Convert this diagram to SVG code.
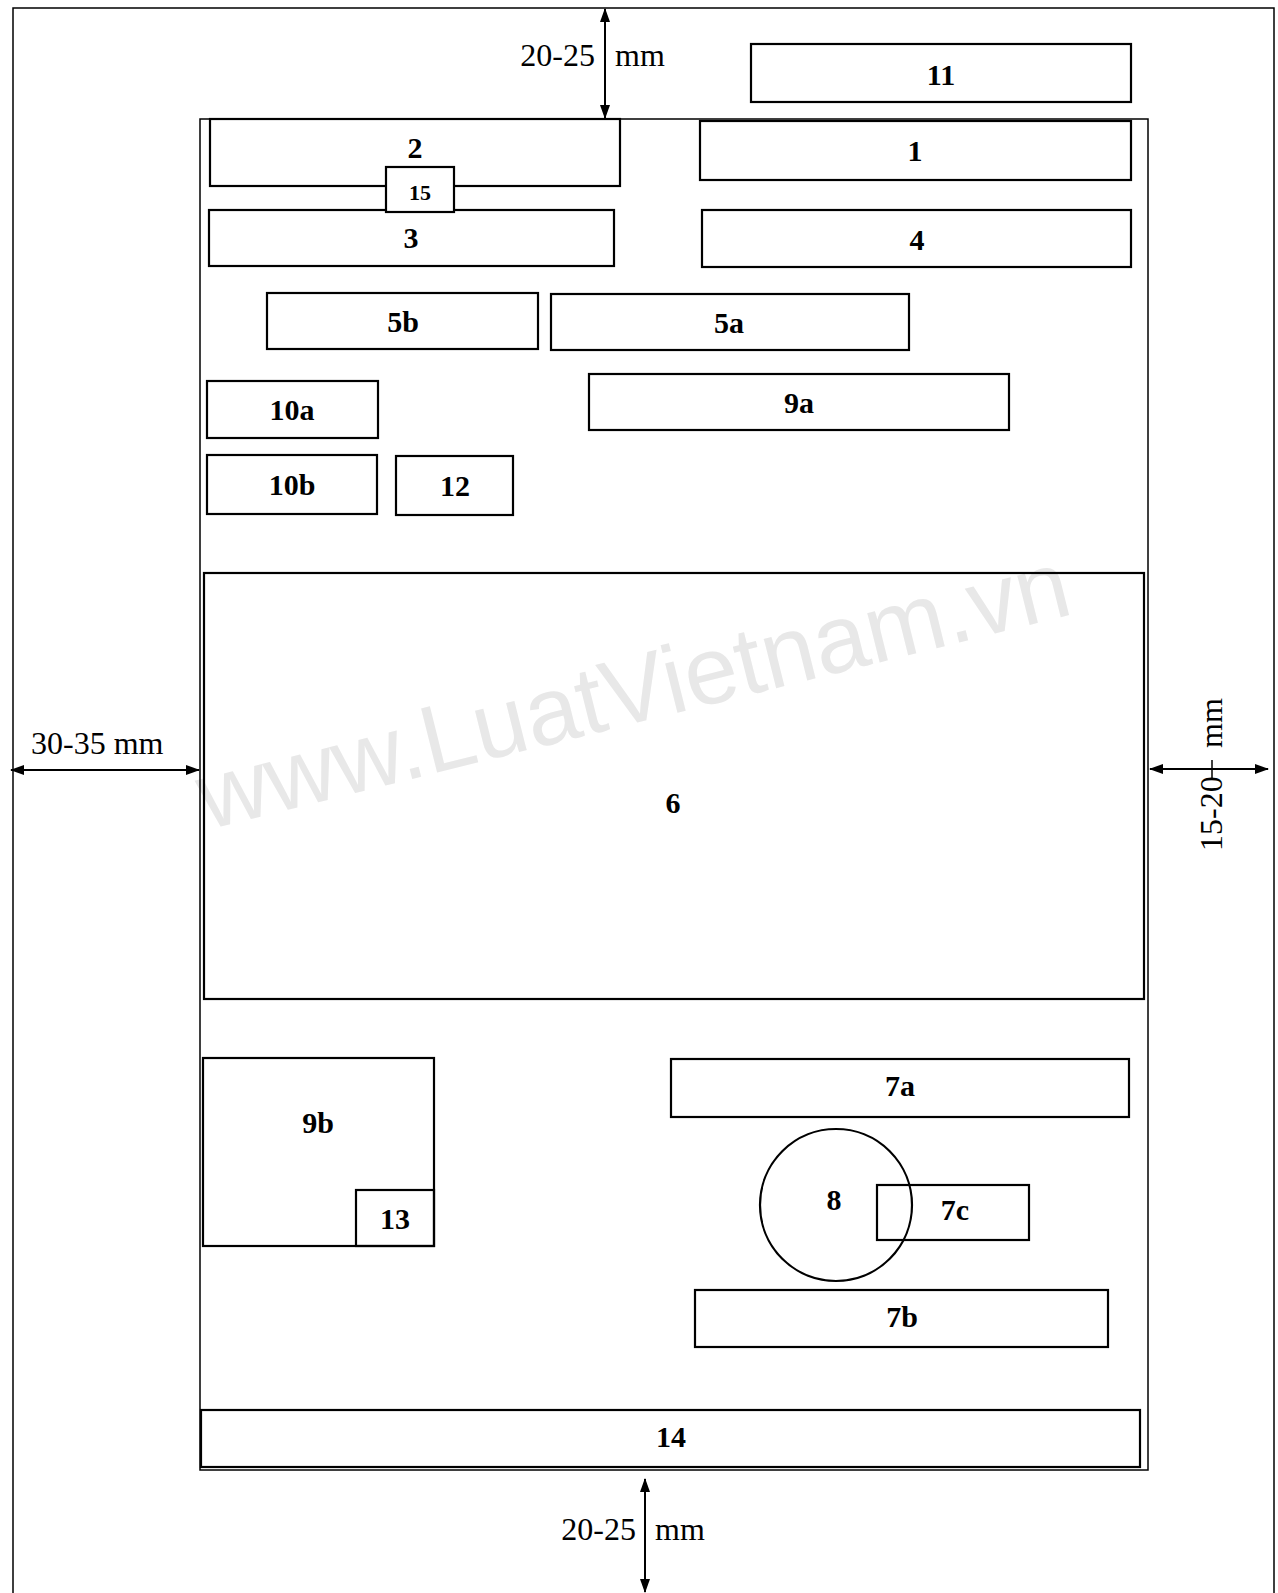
<svg xmlns="http://www.w3.org/2000/svg" width="1278" height="1593" viewBox="0 0 1278 1593">
<defs>
<style>
.box{fill:none;stroke:#000;stroke-width:2.2}
.frame{fill:none;stroke:#000;stroke-width:1.5}
.lbl{font-family:"Liberation Serif","Times New Roman",serif;font-weight:bold;font-size:30px;fill:#000;text-anchor:middle}
.dim{font-family:"Liberation Serif","Times New Roman",serif;font-size:32px;fill:#000}
.arr{stroke:#000;stroke-width:2;fill:none;marker-start:url(#ah);marker-end:url(#ah)}
.wm{font-family:"Liberation Sans",Arial,sans-serif;font-size:96px;fill:#e8e8e8}
</style>
<marker id="ah" viewBox="0 0 14 10" refX="13" refY="5" markerWidth="14" markerHeight="10" orient="auto-start-reverse" markerUnits="userSpaceOnUse">
<path d="M0,0 L14,5 L0,10 z" fill="#000"/>
</marker>
</defs>
<rect width="1278" height="1593" fill="#fff"/>
<text class="wm" transform="translate(207,830) rotate(-14)">www.LuatVietnam.vn</text>
<g id="page">
<path class="frame" d="M13,1593 L13,8 L1274,8 L1274,1593" stroke-width="2.5"/>
</g>
<g id="frame">
<rect class="frame" x="200" y="119" width="948" height="1351"/>
</g>
<g id="n11"><rect class="box" x="751" y="44" width="380" height="58"/><text class="lbl" x="941" y="85">11</text></g>
<g id="n2"><rect class="box" x="210" y="119" width="410" height="67"/><text class="lbl" x="415" y="158">2</text></g>
<g id="n3"><rect class="box" x="209" y="210" width="405" height="56"/><text class="lbl" x="411" y="248">3</text></g>
<g id="n15"><rect class="box" x="386" y="167" width="68" height="45" style="fill:#fff"/><text class="lbl" x="420" y="200" style="font-size:22px">15</text></g>
<g id="n1"><rect class="box" x="700" y="121" width="431" height="59"/><text class="lbl" x="915" y="161">1</text></g>
<g id="n4"><rect class="box" x="702" y="210" width="429" height="57"/><text class="lbl" x="917" y="250">4</text></g>
<g id="n5b"><rect class="box" x="267" y="293" width="271" height="56"/><text class="lbl" x="403" y="332">5b</text></g>
<g id="n5a"><rect class="box" x="551" y="294" width="358" height="56"/><text class="lbl" x="729" y="333">5a</text></g>
<g id="n10a"><rect class="box" x="207" y="381" width="171" height="57"/><text class="lbl" x="292" y="420">10a</text></g>
<g id="n9a"><rect class="box" x="589" y="374" width="420" height="56"/><text class="lbl" x="799" y="413">9a</text></g>
<g id="n10b"><rect class="box" x="207" y="455" width="170" height="59"/><text class="lbl" x="292" y="495">10b</text></g>
<g id="n12"><rect class="box" x="396" y="456" width="117" height="59"/><text class="lbl" x="455" y="496">12</text></g>
<g id="n6"><rect class="box" x="204" y="573" width="940" height="426"/><text class="lbl" x="673" y="813">6</text></g>
<g id="n9b"><rect class="box" x="203" y="1058" width="231" height="188"/><text class="lbl" x="318" y="1133">9b</text></g>
<g id="n13"><rect class="box" x="356" y="1190" width="78" height="56"/><text class="lbl" x="395" y="1229">13</text></g>
<g id="n7a"><rect class="box" x="671" y="1059" width="458" height="58"/><text class="lbl" x="900" y="1096">7a</text></g>
<g id="n8"><circle class="box" cx="836" cy="1205" r="76"/><text class="lbl" x="834" y="1210">8</text></g>
<g id="n7c"><rect class="box" x="877" y="1185" width="152" height="55"/><text class="lbl" x="955" y="1220">7c</text></g>
<g id="n7b"><rect class="box" x="695" y="1290" width="413" height="57"/><text class="lbl" x="902" y="1327">7b</text></g>
<g id="n14"><rect class="box" x="201" y="1410" width="939" height="57"/><text class="lbl" x="671" y="1447">14</text></g>
<g id="connectors">
<line class="arr" x1="605" y1="9" x2="605" y2="118"/>
<line class="arr" x1="11" y1="770" x2="199" y2="770"/>
<line class="arr" x1="1150" y1="769" x2="1268" y2="769"/>
<line x1="1212" y1="760" x2="1212" y2="778" stroke="#000" stroke-width="1.5"/>
<line class="arr" x1="645" y1="1479" x2="645" y2="1592"/>
</g>
<g id="dims">
<text class="dim" x="595" y="66" text-anchor="end">20-25</text>
<text class="dim" x="615" y="66">mm</text>
<text class="dim" x="31" y="754">30-35 mm</text>
<text class="dim" x="636" y="1540" text-anchor="end">20-25</text>
<text class="dim" x="655" y="1540">mm</text>
<text class="dim" transform="translate(1222,851) rotate(-90)">15-20</text>
<text class="dim" transform="translate(1222,748) rotate(-90)">mm</text>
</g>
</svg>
